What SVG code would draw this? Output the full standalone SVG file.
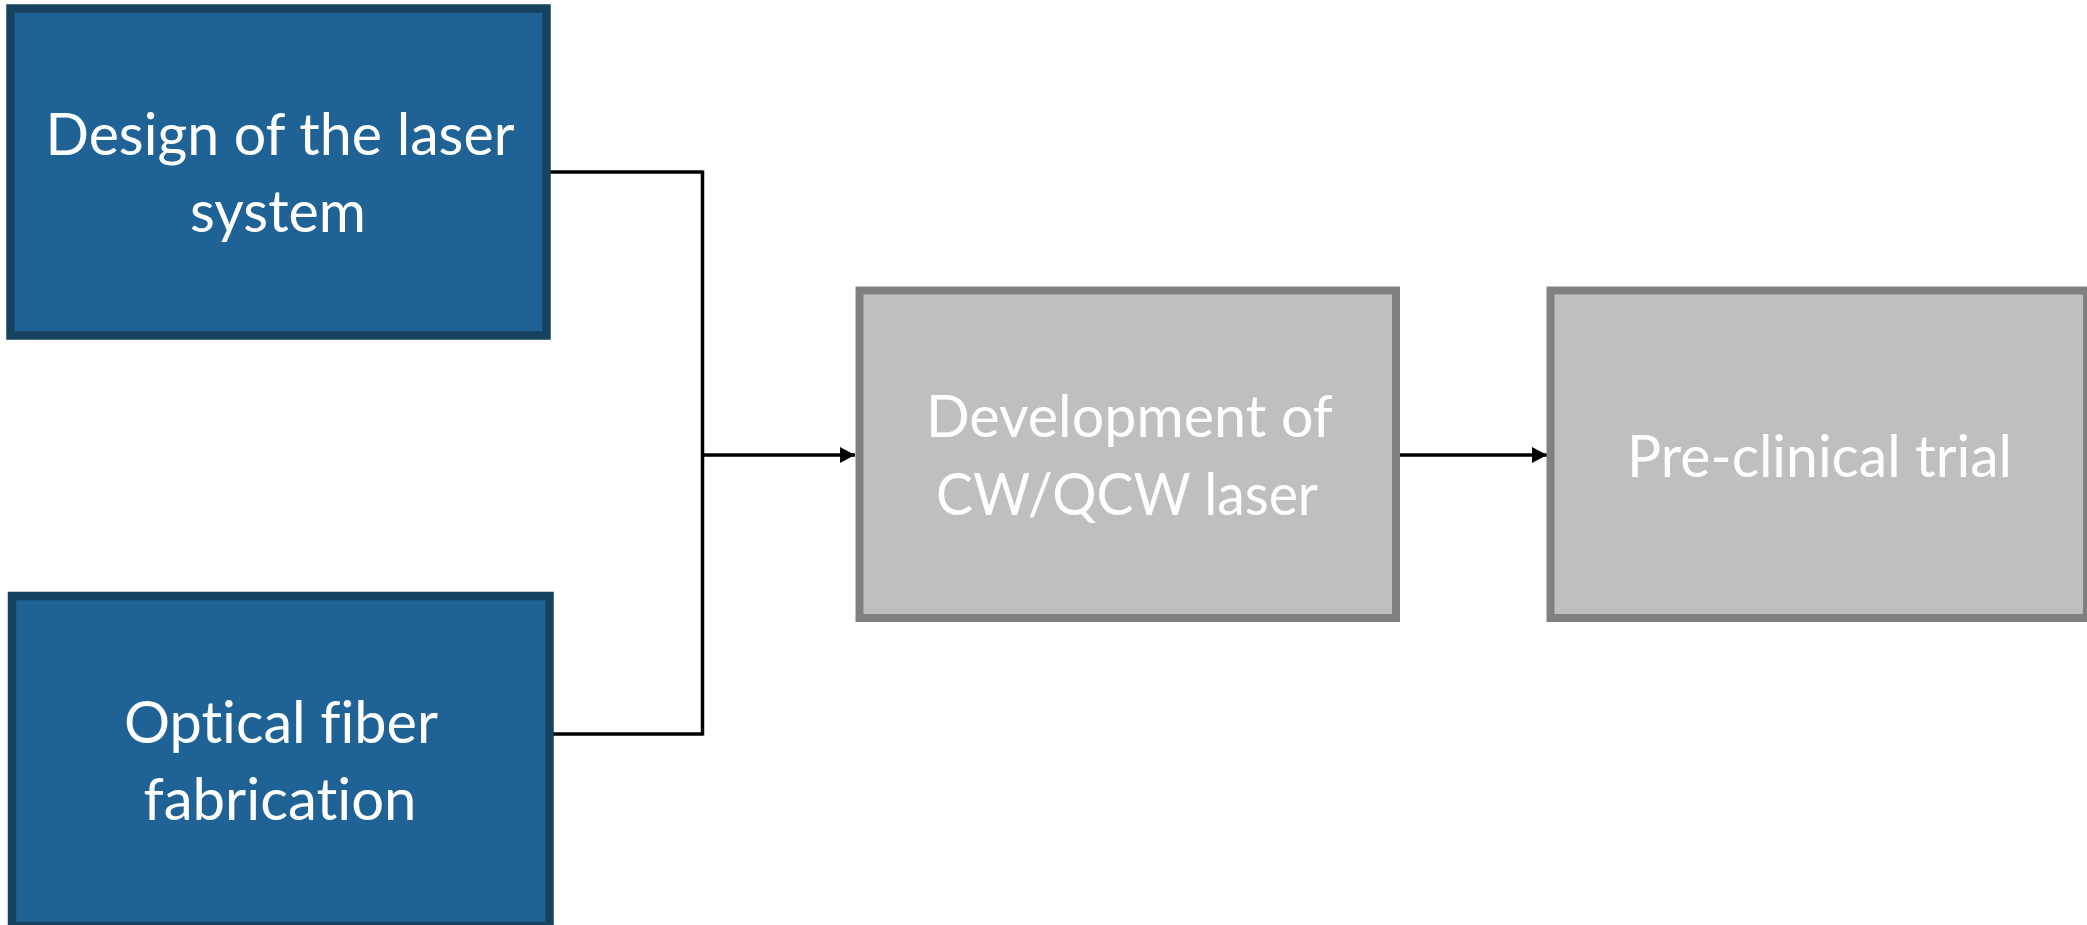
<svg xmlns="http://www.w3.org/2000/svg" width="2087" height="925" viewBox="0 0 2087 925">
<style>
.blue{fill:#1F6396;stroke:#16415F;stroke-width:8.5}
.gray{fill:#BFBFBF;stroke:#808080;stroke-width:8}
.t{font-family:Lato,"Open Sans","Liberation Sans",sans-serif;font-size:58px;fill:#FFFFFF;text-anchor:middle;font-variant-ligatures:none}
.c{fill:none;stroke:#000000;stroke-width:3.5}
</style>
<defs>
<marker id="ah" markerUnits="userSpaceOnUse" markerWidth="15" markerHeight="16" refX="15" refY="8" orient="auto">
<path d="M0,0 L15,8 L0,16 z" fill="#000000"/>
</marker>
</defs>
<rect width="2087" height="925" fill="#FFFFFF"/>
<g id="connectors">
<path class="c" d="M550,172 H702.5"/>
<path class="c" d="M553,734 H702.5"/>
<path class="c" d="M702.5,170.5 V735.5"/>
<path class="c" d="M701,455 H855" marker-end="url(#ah)"/>
<path class="c" d="M1400,455 H1547" marker-end="url(#ah)"/>
</g>
<g id="node-design">
<rect class="blue" x="10.5" y="8.5" width="536" height="327"/>
<text class="t" x="280" y="155" textLength="469" lengthAdjust="spacingAndGlyphs">Design of the laser</text>
<text class="t" x="278" y="232" textLength="176" lengthAdjust="spacingAndGlyphs">system</text>
</g>
<g id="node-fiber">
<rect class="blue" x="12" y="596" width="537.5" height="330"/>
<text class="t" x="281" y="743" textLength="314" lengthAdjust="spacingAndGlyphs">Optical fiber</text>
<text class="t" x="280" y="820" textLength="273" lengthAdjust="spacingAndGlyphs">fabrication</text>
</g>
<g id="node-development">
<rect class="gray" x="859.5" y="290.5" width="536.5" height="327.5"/>
<text class="t" x="1129.5" y="437" textLength="407" lengthAdjust="spacingAndGlyphs">Development of</text>
<text class="t" x="1127" y="515" textLength="382" lengthAdjust="spacingAndGlyphs">CW/QCW laser</text>
</g>
<g id="node-preclinical">
<rect class="gray" x="1550.5" y="290.5" width="536.5" height="327.5"/>
<text class="t" x="1819.5" y="477" textLength="385" lengthAdjust="spacingAndGlyphs">Pre-clinical trial</text>
</g>
</svg>
